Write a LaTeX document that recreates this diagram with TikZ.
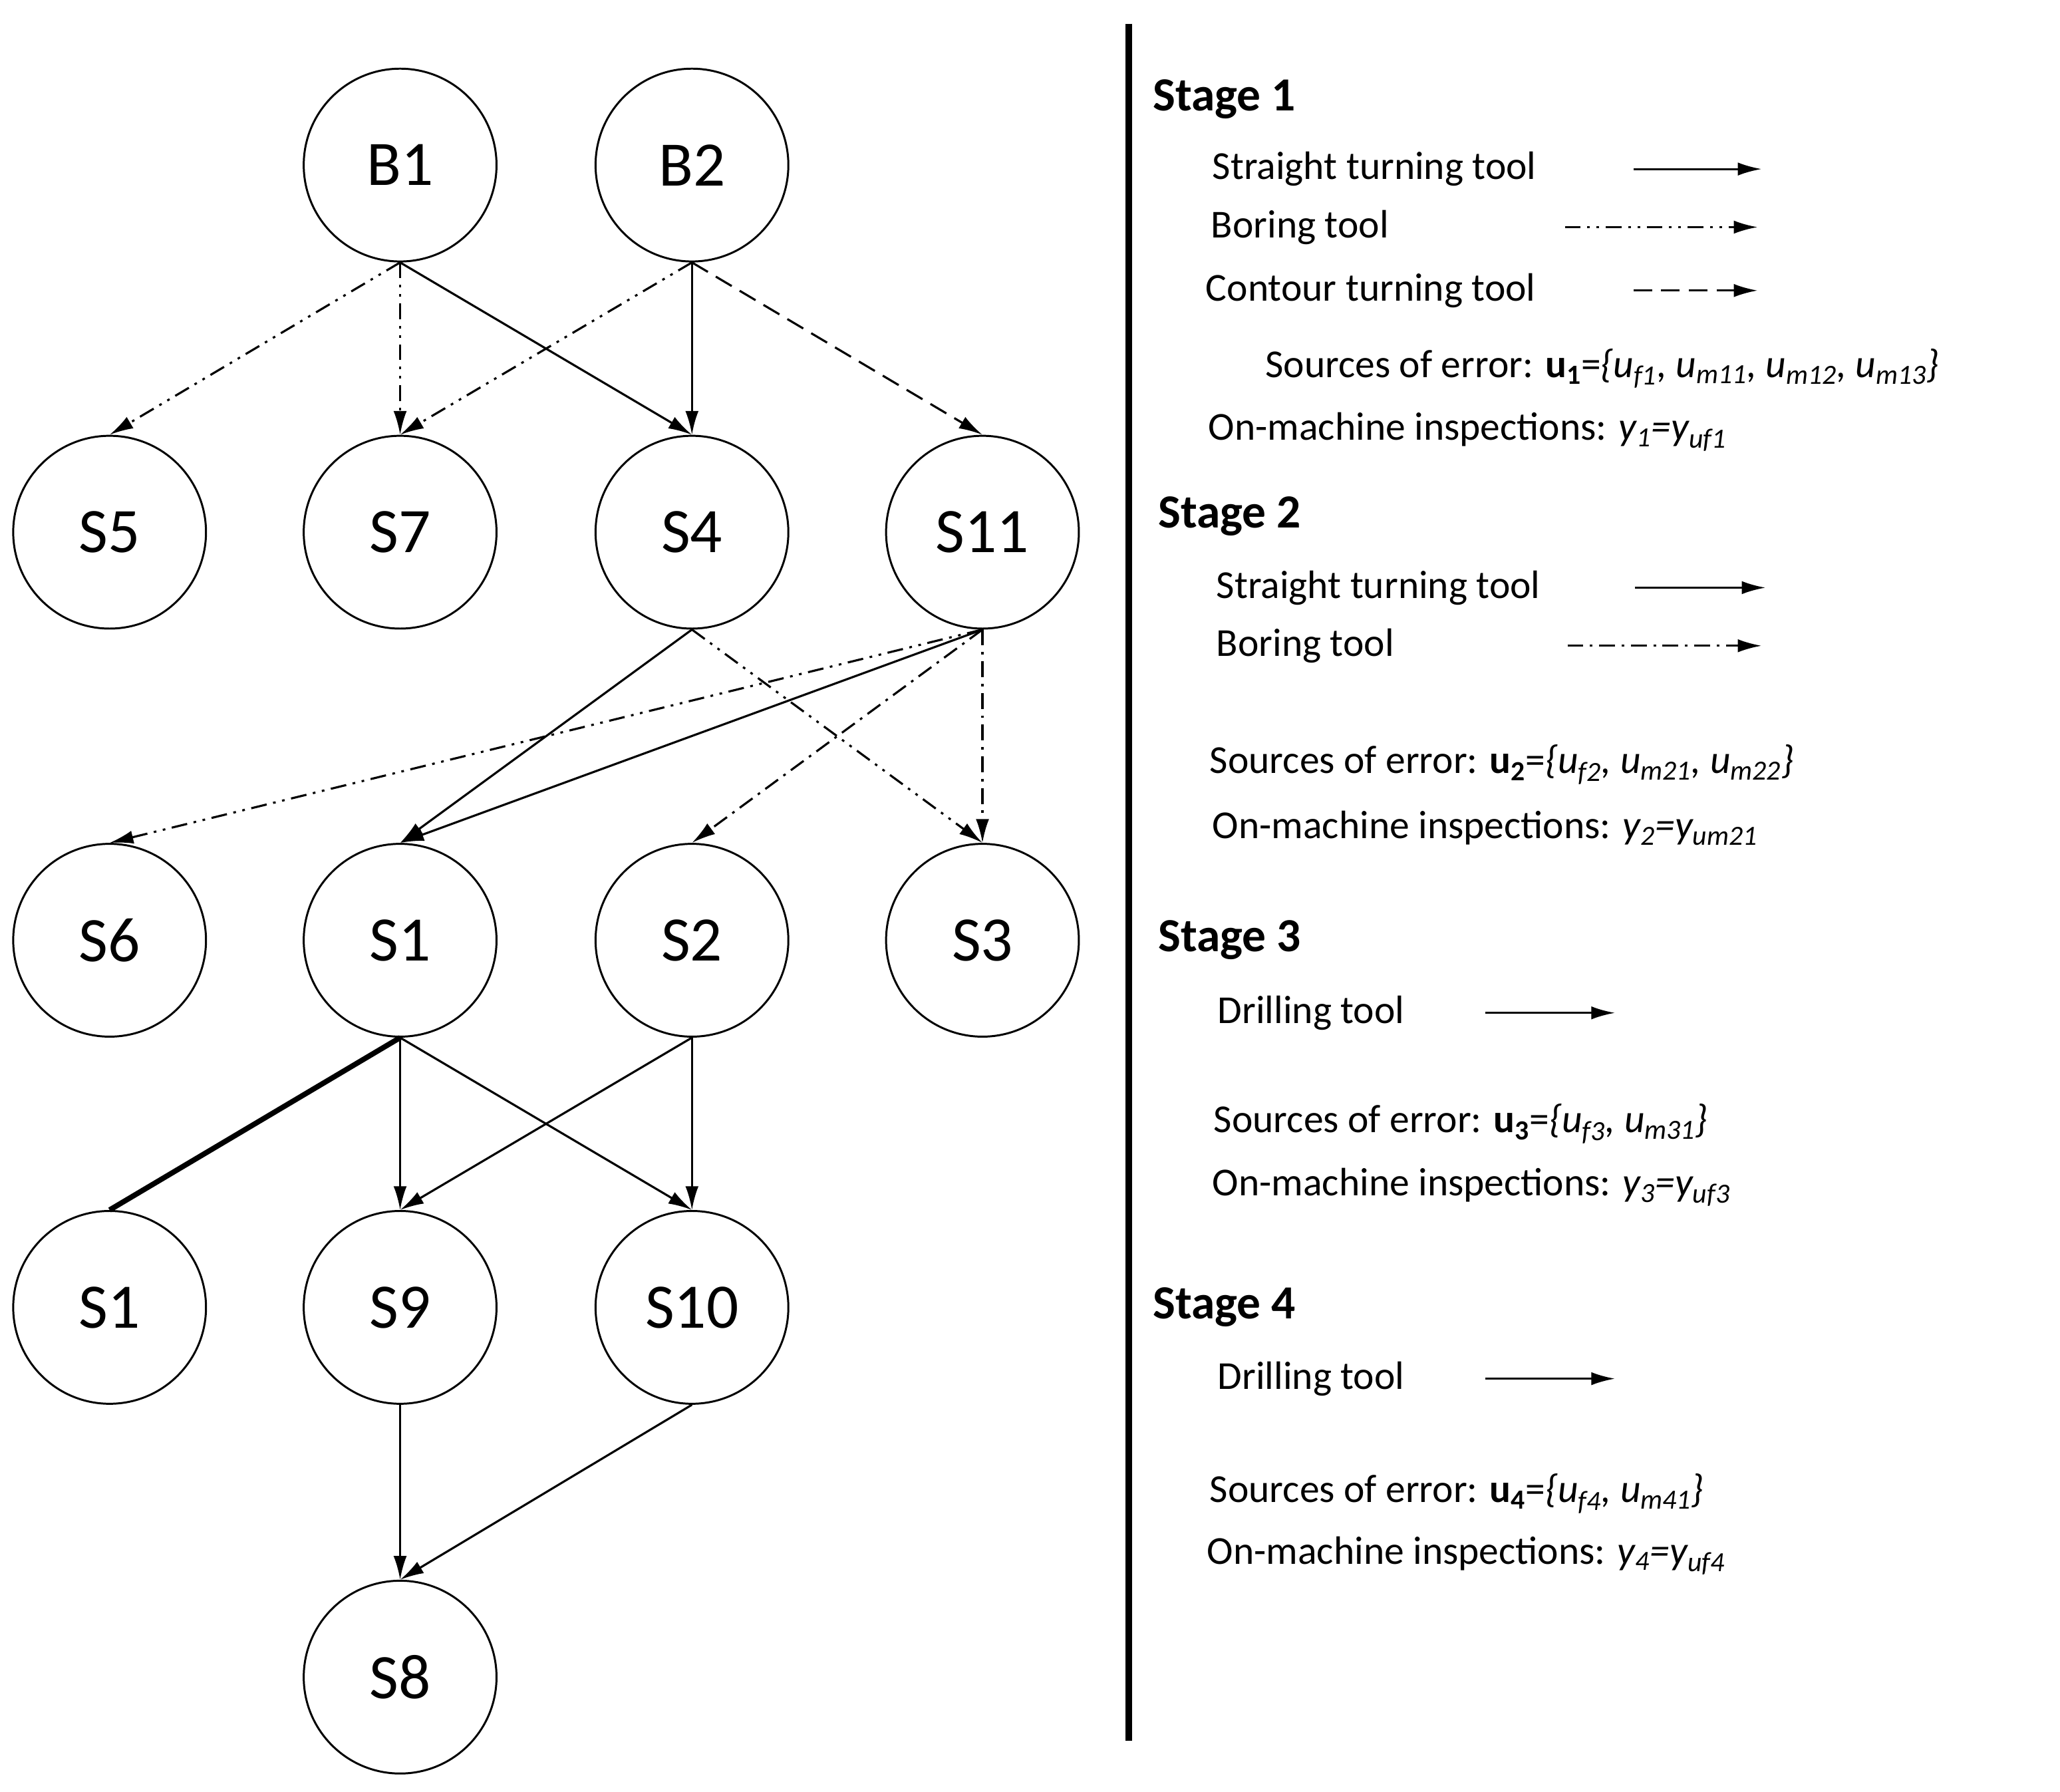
\documentclass[tikz,border=0pt]{standalone}
\usepackage{fontspec}
\setmainfont{Carlito}
\usetikzlibrary{arrows.meta}
\begin{document}
\begin{tikzpicture}[x=1pt,y=-1pt,
  st/.style={circle,draw,line width=1.5pt,minimum size=146pt,inner sep=0pt,font=\fontsize{48}{50}\selectfont},
  e/.style={line width=1.6pt,-{Latex[length=18pt,width=10pt]}},
  ddot/.style={dash pattern=on 12pt off 5pt on 2pt off 5pt on 2pt off 5pt},
  dot/.style={dash pattern=on 12pt off 5pt on 2pt off 5pt},
  dsh/.style={dash pattern=on 14pt off 7pt},
  lt/.style={anchor=west,inner sep=0pt,font=\fontsize{30}{32}\selectfont},
  sg/.style={anchor=west,inner sep=0pt,font=\fontsize{36}{38}\selectfont\bfseries}]
\useasboundingbox (0,0) rectangle (1560,1357);
\node[st] (B1) at (303,125) {B1};
\node[st] (B2) at (524,125) {B2};
\node[st] (S5) at (83,403) {S5};
\node[st] (S7) at (303,403) {S7};
\node[st] (S4) at (524,403) {S4};
\node[st] (S11) at (744,403) {S11};
\node[st] (S6) at (83,712) {S6};
\node[st] (S1) at (303,712) {S1};
\node[st] (S2) at (524,712) {S2};
\node[st] (S3) at (744,712) {S3};
\node[st] (S1b) at (83,990) {S1};
\node[st] (S9) at (303,990) {S9};
\node[st] (S10) at (524,990) {S10};
\node[st] (S8) at (303,1270) {S8};
\draw[e,ddot] (B1.south) -- (S5.north);
\draw[e,ddot] (B1.south) -- (S7.north);
\draw[e] (B1.south) -- (S4.north);
\draw[e,ddot] (B2.south) -- (S7.north);
\draw[e] (B2.south) -- (S4.north);
\draw[e,dsh] (B2.south) -- (S11.north);
\draw[e] (S4.south) -- (S1.north);
\draw[e,ddot] (S4.south) -- (S3.north);
\draw[e,ddot] (S11.south) -- (S6.north);
\draw[e] (S11.south) -- (S1.north);
\draw[e,dot] (S11.south) -- (S2.north);
\draw[e,dot] (S11.south) -- (S3.north);
\draw[line width=4pt] (S1.south) -- (S1b.north);
\draw[e] (S1.south) -- (S9.north);
\draw[e] (S1.south) -- (S10.north);
\draw[e] (S2.south) -- (S9.north);
\draw[e] (S2.south) -- (S10.north);
\draw[e] (S9.south) -- (S8.north);
\draw[e] (S10.south) -- (S8.north);
\coordinate (vt) at (855,18); \coordinate (vb) at (855,1318);
\draw[line width=5pt] (vt) -- (vb);
% Stage 1
\node[sg] (g1) at (873,75) {Stage 1};
\node[lt] (a1) at (918,128) {Straight turning tool};
\coordinate (a1s) at (1237,128); \coordinate (a1e) at (1334,128);
\draw[e] (a1s) -- (a1e);
\node[lt] (b1) at (917,172) {Boring tool};
\coordinate (b1s) at (1185,172); \coordinate (b1e) at (1331,172);
\draw[e,ddot] (b1s) -- (b1e);
\node[lt] (c1) at (913,220) {Contour turning tool};
\coordinate (c1s) at (1237,220); \coordinate (c1e) at (1331,220);
\draw[e,dsh] (c1s) -- (c1e);
\node[lt] (d1) at (958,279) {Sources of error: \textbf{u\textsubscript{1}}=\textit{\{u\textsubscript{f1}, u\textsubscript{m11}, u\textsubscript{m12}, u\textsubscript{m13}\}}};
\node[lt] (f1) at (915,327) {On-machine inspections: \textit{y\textsubscript{1}=y\textsubscript{uf1}}};
% Stage 2
\node[sg] (g2) at (877,391) {Stage 2};
\node[lt] (a2) at (921,445) {Straight turning tool};
\coordinate (a2s) at (1238,445); \coordinate (a2e) at (1337,445);
\draw[e] (a2s) -- (a2e);
\node[lt] (b2) at (921,489) {Boring tool};
\coordinate (b2s) at (1187,489); \coordinate (b2e) at (1334,489);
\draw[e,dot] (b2s) -- (b2e);
\node[lt] (d2) at (916,579) {Sources of error: \textbf{u\textsubscript{2}}=\textit{\{u\textsubscript{f2}, u\textsubscript{m21}, u\textsubscript{m22}\}}};
\node[lt] (f2) at (918,627) {On-machine inspections: \textit{y\textsubscript{2}=y\textsubscript{um21}}};
% Stage 3
\node[sg] (g3) at (877,712) {Stage 3};
\node[lt] (a3) at (922,767) {Drilling tool};
\coordinate (a3s) at (1125,767); \coordinate (a3e) at (1223,767);
\draw[e] (a3s) -- (a3e);
\node[lt] (d3) at (919,851) {Sources of error: \textbf{u\textsubscript{3}}=\textit{\{u\textsubscript{f3}, u\textsubscript{m31}\}}};
\node[lt] (f3) at (918,899) {On-machine inspections: \textit{y\textsubscript{3}=y\textsubscript{uf3}}};
% Stage 4
\node[sg] (g4) at (873,990) {Stage 4};
\node[lt] (a4) at (922,1044) {Drilling tool};
\coordinate (a4s) at (1125,1044); \coordinate (a4e) at (1223,1044);
\draw[e] (a4s) -- (a4e);
\node[lt] (d4) at (916,1131) {Sources of error: \textbf{u\textsubscript{4}}=\textit{\{u\textsubscript{f4}, u\textsubscript{m41}\}}};
\node[lt] (f4) at (914,1178) {On-machine inspections: \textit{y\textsubscript{4}=y\textsubscript{uf4}}};
\end{tikzpicture}
\end{document}
